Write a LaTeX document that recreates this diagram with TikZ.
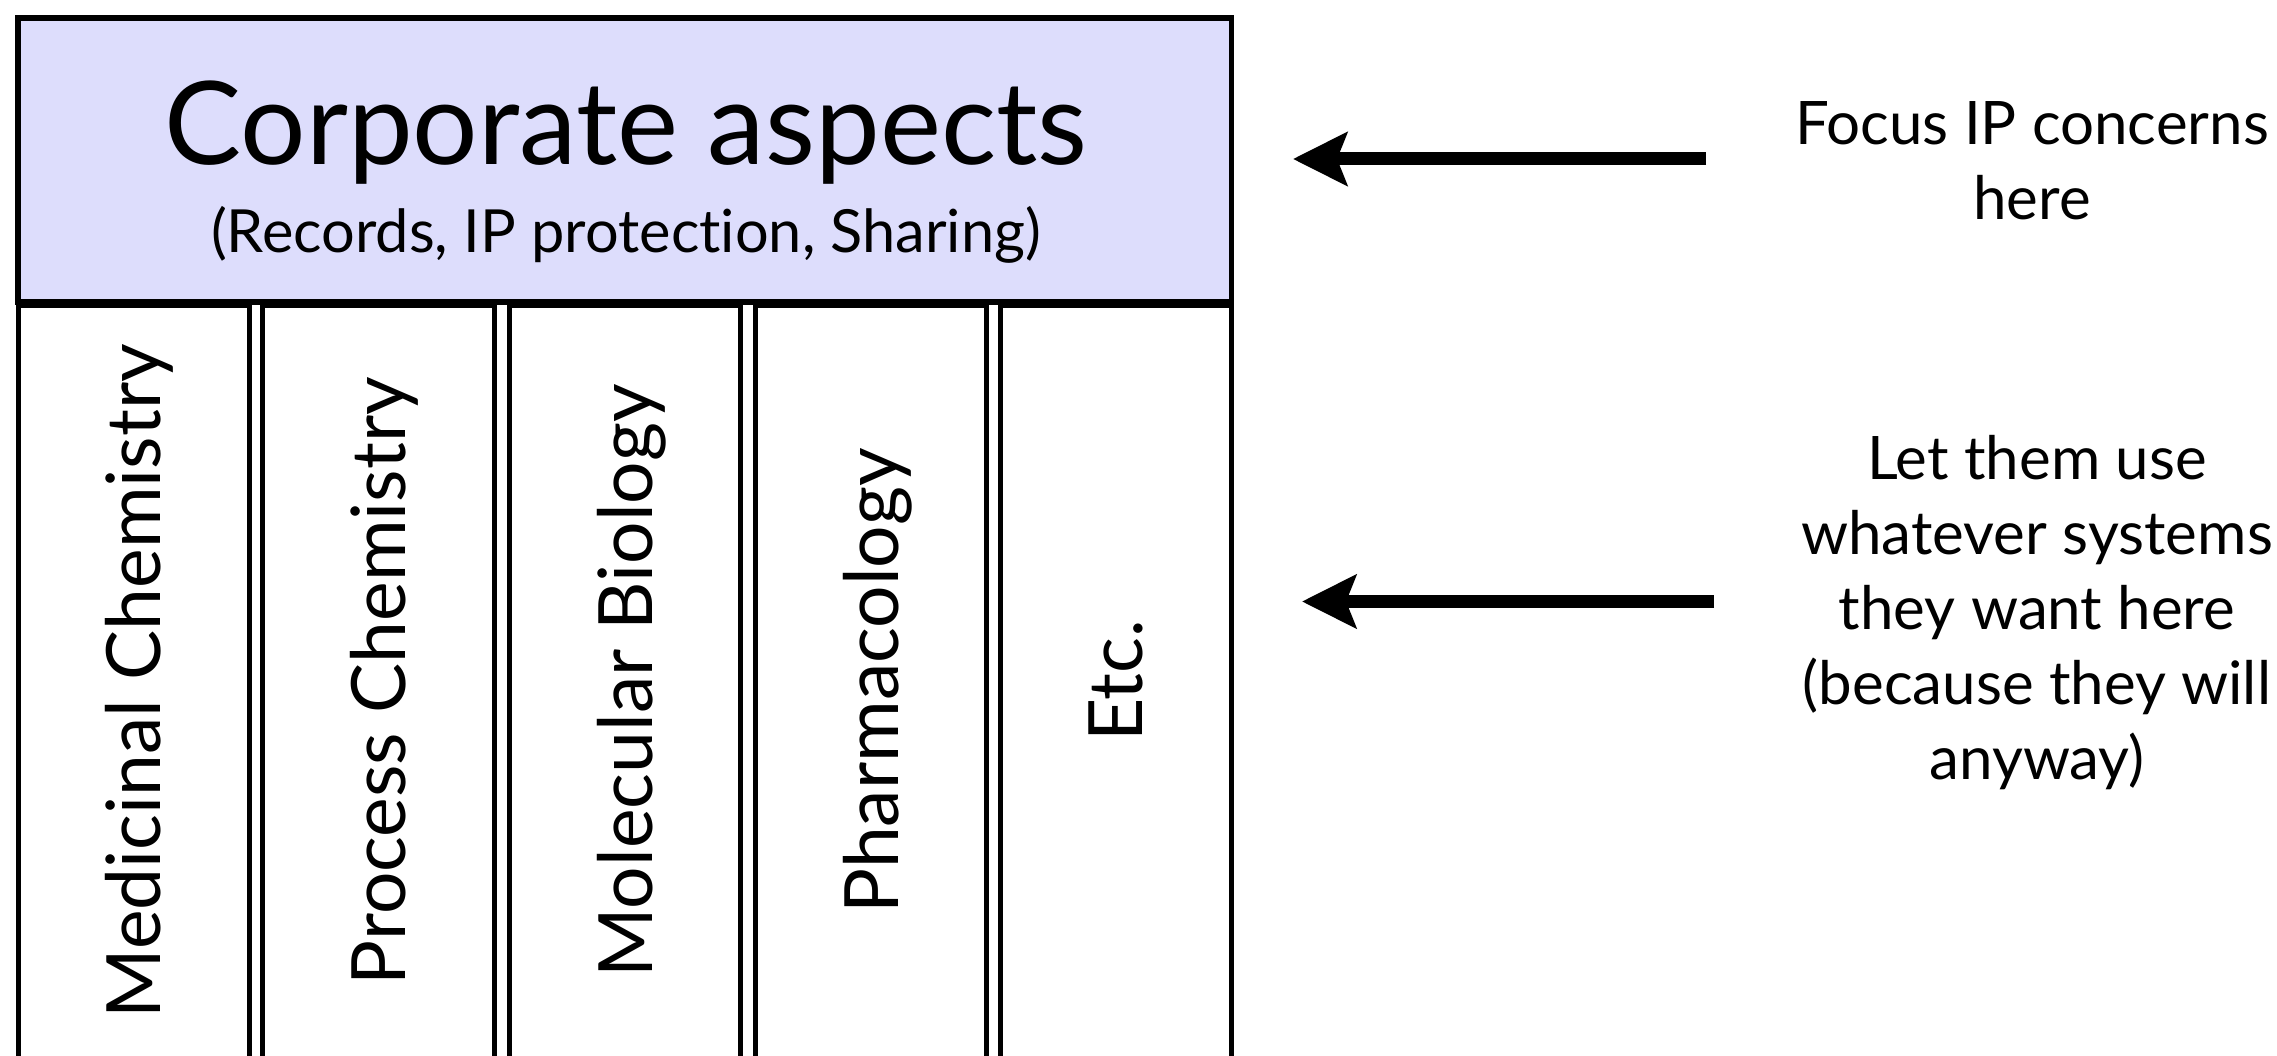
\documentclass[tikz,border=0pt]{standalone}
\usepackage{fontspec}
\setmainfont{Lato}[Ligatures=NoCommon]
\usetikzlibrary{arrows.meta}
\definecolor{headfill}{RGB}{221,221,252}
\begin{document}
\begin{tikzpicture}[x=1pt,y=-1pt,
  header/.style={draw=black, line width=5.5pt, fill=headfill, inner sep=0pt, outer sep=0pt,
    minimum width=1213.5pt, minimum height=284pt},
  column/.style={draw=black, line width=5pt, fill=white, inner sep=0pt, outer sep=0pt,
    minimum width=231.5pt, minimum height=800pt},
  coltext/.style={anchor=base, rotate=90, inner sep=0pt, font=\fontsize{75}{90}\selectfont},
  titletext/.style={anchor=base, inner sep=0pt, font=\fontsize{115.5}{130}\selectfont},
  subtext/.style={anchor=base, inner sep=0pt, font=\fontsize{59.5}{75}\selectfont},
  note/.style={anchor=base, inner sep=0pt, font=\fontsize{60}{75}\selectfont},
  pointer/.style={line width=13pt, -{Stealth[length=54pt, width=53pt, inset=10pt]}}
]
\useasboundingbox (0,0) rectangle (2277,1056);
\begin{scope}
\clip (0,0) rectangle (2277,1056);
% columns
\node[column] (c1) at (133.75,706) {};
\node[column] (c2) at (378.5,706) {};
\node[column] (c3) at (625,706) {};
\node[column] (c4) at (871,706) {};
\node[column] (c5) at (1115.75,706) {};
% header
\node[header] (header) at (624.75,160) {};
\end{scope}
\node[titletext] (title) at (626,165) {Corporate aspects};
\node[subtext] (sub) at (626,253) {(Records, IP protection, Sharing)};
% column labels
\node[coltext] (t1) at (160.75,681) {Medicinal Chemistry};
\node[coltext] (t2) at (405.5,681) {Process Chemistry};
\node[coltext] (t3) at (652,681) {Molecular Biology};
\node[coltext] (t4) at (898,681) {Pharmacology};
\node[coltext] (t5) at (1142.75,681) {Etc.};
% notes
\node[note] (n1) at (2032,145) {\begin{tabular}[t]{@{}c@{}}Focus IP concerns\\here\end{tabular}};
\node[note] (n2) at (2037,479) {\begin{tabular}[t]{@{}c@{}}Let them use\\whatever systems\\they want here\\(because they will\\anyway)\end{tabular}};
% arrows
\coordinate (a1s) at (1706,159);
\coordinate (a1e) at (1293,159);
\coordinate (a2s) at (1714,601.5);
\coordinate (a2e) at (1302,601.5);
\draw[pointer] (a1s) -- (a1e);
\draw[pointer] (a2s) -- (a2e);
\end{tikzpicture}
\end{document}
